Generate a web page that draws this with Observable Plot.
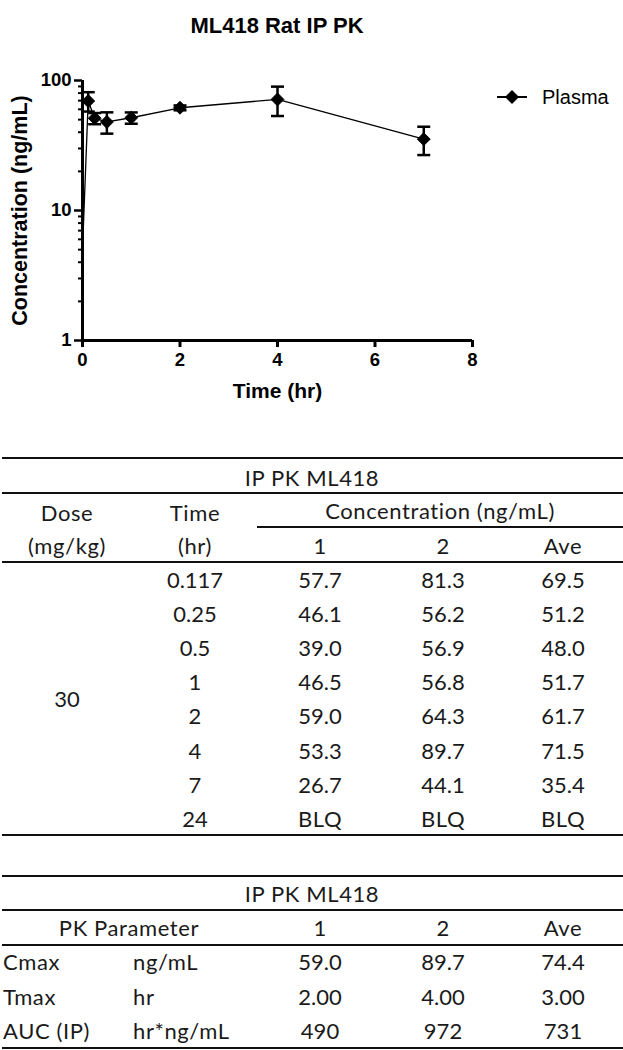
<!DOCTYPE html>
<html>
<head>
<meta charset="utf-8">
<script src="https://cdn.jsdelivr.net/npm/d3@7"></script>
<script src="https://cdn.jsdelivr.net/npm/@observablehq/plot@0.6"></script>
<style>
  html, body { margin: 0; padding: 0; background: #fff; }
  body { width: 623px; height: 1050px; position: relative; overflow: hidden; font-family: "Liberation Sans", Arial, sans-serif; color: #000; }
  #title { position: absolute; z-index: 2; left: 0; width: 554px; top: 13px; text-align: center; font-weight: bold; font-size: 22px; line-height: 26px; }
  #chart { position: absolute; left: 0; top: 0; z-index: 1; }
  #legend { position: absolute; z-index: 2; left: 496px; top: 84px; height: 26px; display: flex; align-items: center; }
  #legend span { font-size: 20px; margin-left: 14px; }
  .hl { position: absolute; height: 2px; background: #111; }
  .tx { position: absolute; font-family: Lato, "Open Sans", sans-serif; font-size: 22px; color: #1a1a1a; white-space: nowrap; line-height: 1; }
  .w { letter-spacing: 0.6px; }
  .c { transform: translate(-50%, -50%); }
  .l { transform: translate(0, -50%); }
</style>
</head>
<body>
<div id="title">ML418 Rat IP PK</div>
<div id="chart"></div>
<div id="legend"></div>
<div id="tables"></div>
<script>
// ---- Data ----
const times = [0.117, 0.25, 0.5, 1, 2, 4, 7];
const subject1 = [57.7, 46.1, 39.0, 46.5, 59.0, 53.3, 26.7];
const subject2 = [81.3, 56.2, 56.9, 56.8, 64.3, 89.7, 44.1];
const average = [69.5, 51.2, 48.0, 51.7, 61.7, 71.5, 35.4];
const startTime = 0;          // line starts at time 0 (estimated value below)
const startConc = 5;
const xTicks = [0, 2, 4, 6, 8];
const yTicks = [1, 10, 100];
const yMinorTicks = [2, 3, 4, 5, 6, 7, 8, 9, 20, 30, 40, 50, 60, 70, 80, 90];
const seriesName = "Plasma";

// table 1
const tableTitle = "IP PK ML418";
const dose = "30";
const tableTimes = ["0.117", "0.25", "0.5", "1", "2", "4", "7", "24"];
const col1 = ["57.7", "46.1", "39.0", "46.5", "59.0", "53.3", "26.7", "BLQ"];
const col2 = ["81.3", "56.2", "56.9", "56.8", "64.3", "89.7", "44.1", "BLQ"];
const colAve = ["69.5", "51.2", "48.0", "51.7", "61.7", "71.5", "35.4", "BLQ"];
// table 2
const pkParams = ["Cmax", "Tmax", "AUC (IP)"];
const pkUnits = ["ng/mL", "hr", "hr*ng/mL"];
const pk1 = ["59.0", "2.00", "490"];
const pk2 = ["89.7", "4.00", "972"];
const pkAve = ["74.4", "3.00", "731"];

// ---- Chart ----
const data = times.map((t, i) => ({
  t, ave: average[i],
  lo: Math.min(subject1[i], subject2[i]),
  hi: Math.max(subject1[i], subject2[i])
}));
const lineData = [{t: startTime, ave: startConc}, ...data];

const cap = { draw(ctx) { ctx.moveTo(-6.5, 0); ctx.lineTo(6.5, 0); } };

const plot = Plot.plot({
  width: 623, height: 420,
  marginLeft: 82, marginRight: 151, marginTop: 80, marginBottom: 80,
  x: { domain: [0, 8] },
  y: { type: "log", domain: [1, 100] },
  style: { fontFamily: "'Liberation Sans', Arial, sans-serif", color: "black", background: "transparent", overflow: "visible" },
  marks: [
    Plot.axisY({ ticks: yMinorTicks, tickSize: 4, strokeWidth: 2, tickFormat: () => "", label: null }),
    Plot.axisY({ ticks: yTicks, tickSize: 8, tickPadding: 3, strokeWidth: 2.5, fontSize: 18.5, fontWeight: "bold", tickFormat: d3.format("d"), label: null }),
    Plot.axisY({ ticks: [], tickSize: 0, label: "Concentration (ng/mL)", labelAnchor: "center", labelArrow: "none", labelOffset: 71, fontSize: 21.5, fontWeight: "bold" }),
    Plot.axisX({ ticks: xTicks, tickSize: 7, tickPadding: 5, strokeWidth: 3, fontSize: 18.5, fontWeight: "bold", tickFormat: d3.format("d"), label: null }),
    Plot.axisX({ ticks: [], tickSize: 0, label: "Time (hr)", labelAnchor: "center", labelArrow: "none", labelOffset: 57, fontSize: 21, fontWeight: "bold" }),
    Plot.ruleX([0], { stroke: "black", strokeWidth: 3 }),
    Plot.ruleY([1], { stroke: "black", strokeWidth: 3 }),
    Plot.line(lineData, { x: "t", y: "ave", stroke: "black", strokeWidth: 1.3 }),
    Plot.ruleX(data, { x: "t", y1: "lo", y2: "hi", stroke: "black", strokeWidth: 2.5 }),
    Plot.dot(data, { x: "t", y: "lo", symbol: cap, r: 4, stroke: "black", strokeWidth: 2.5, fill: "none" }),
    Plot.dot(data, { x: "t", y: "hi", symbol: cap, r: 4, stroke: "black", strokeWidth: 2.5, fill: "none" }),
    Plot.dot(data, { x: "t", y: "ave", symbol: "diamond2", r: 5.8, fill: "black", stroke: "black", strokeWidth: 1 })
  ]
});
document.getElementById("chart").appendChild(plot);

// ---- Legend ----
document.getElementById("legend").innerHTML =
  `<svg width="32" height="16" viewBox="0 0 32 16"><line x1="1" y1="8" x2="31" y2="8" stroke="black" stroke-width="2"/>` +
  `<path d="M16 1 L23 8 L16 15 L9 8 Z" fill="black"/></svg><span>${seriesName}</span>`;

// ---- Tables ----
const T = document.getElementById("tables");
function hline(y, x1 = 2, x2 = 623) {
  const d = document.createElement("div");
  d.className = "hl"; d.style.top = (y - 1) + "px"; d.style.left = x1 + "px"; d.style.width = (x2 - x1) + "px";
  T.appendChild(d);
}
function text(s, x, y, align = "c") {
  const d = document.createElement("div");
  d.className = "tx " + align + (/^[\d.]+$/.test(s) ? "" : " w");
  d.textContent = s; d.style.left = x + "px"; d.style.top = y + "px";
  T.appendChild(d);
}
const cx = { dose: 67, time: 195, c1: 320, c2: 443, ave: 563 };
// table 1
[458, 493, 562, 835].forEach(y => hline(y));
hline(527, 257, 623);
text(tableTitle, 312, 478);
text("Dose", cx.dose, 513); text("Time", cx.time, 513); text("Concentration (ng/mL)", 440, 511);
text("(mg/kg)", cx.dose, 546); text("(hr)", cx.time, 546);
text("1", cx.c1, 546); text("2", cx.c2, 546); text("Ave", cx.ave, 546);
tableTimes.forEach((t, i) => {
  const y = 580 + i * 34.1;
  text(t, cx.time, y); text(col1[i], cx.c1, y); text(col2[i], cx.c2, y); text(colAve[i], cx.ave, y);
});
text(dose, cx.dose, 699);
// table 2
[876, 910, 945, 1048].forEach(y => hline(y));
text(tableTitle, 312, 894);
text("PK Parameter", 129, 928); text("1", cx.c1, 928); text("2", cx.c2, 928); text("Ave", cx.ave, 928);
pkParams.forEach((p, i) => {
  const y = 962 + i * 34.5;
  text(p, 3, y, "l"); text(pkUnits[i], 133, y, "l");
  text(pk1[i], cx.c1, y); text(pk2[i], cx.c2, y); text(pkAve[i], cx.ave, y);
});
</script>
</body>
</html>
